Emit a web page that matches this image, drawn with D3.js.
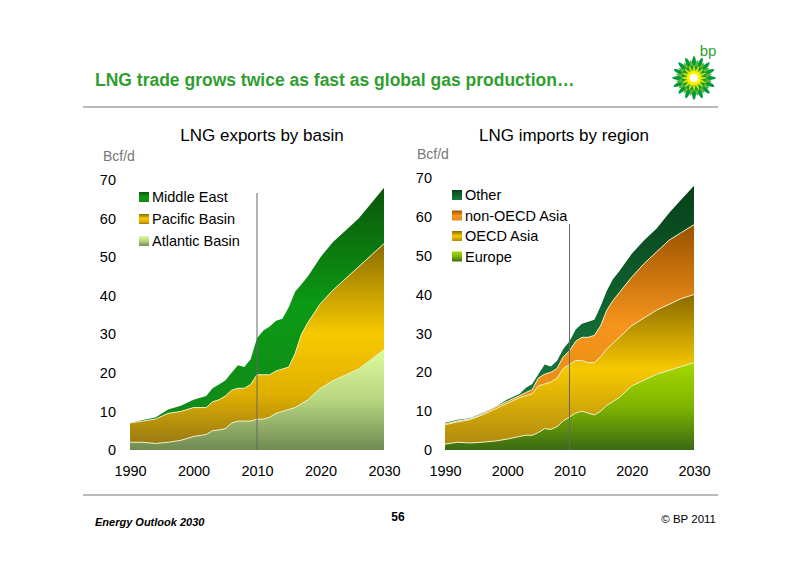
<!DOCTYPE html>
<html><head><meta charset="utf-8">
<script src="https://cdn.jsdelivr.net/npm/d3@7"></script>
<style>body{margin:0;background:#fff}svg{font-family:"Liberation Sans",Arial,sans-serif}</style>
</head><body><svg id="c" width="800" height="566"></svg>
<script>
const yearsL=[1990,1992,1994,1996,1998,2000,2002,2003,2004,2005,2006,2007,2008,2009,2010,2011,2012,2013,2014,2015,2016,2017,2018,2020,2022,2024,2026,2028,2030];
const atlantic=[2,2,1.7,2,2.5,3.5,4,5,5.2,5.5,7,7.5,7.5,7.5,8,8,8.5,9.5,10,10.5,11,12,13,16,18,19.5,21,23.5,26];
const pacific=[5,5.5,6.3,7.5,7.5,7.5,7,7.5,7.8,8.5,8.5,8.5,8.5,9.5,11.5,11.5,11,11,11,11,14,18,20,22,23.5,25,26.5,27,27.5];
const middleEast=[0,0.3,0.4,1,1.5,2,3,3.5,4,4,4.5,6,5.5,6.5,9.5,11.5,12.5,13,13,15.5,16,13,12,12,12.5,12.5,12.5,13.5,14.5];
const yearsR=yearsL;
const europe=[1.5,2,1.8,2,2.3,2.8,3.5,3.8,3.8,4.5,5.5,5.3,6,7.5,8.5,9.5,10,9.5,9,10,11.5,12.5,13.5,16.5,18,19.5,20.5,21.5,22.5];
const oecdAsia=[5,5.2,6,7,8.2,9.2,10,10.2,10.7,12,11.5,12.2,12.5,13.5,13.5,13.5,13,13,13.5,14,14.5,15,15.5,15.5,16,16.5,17,17.5,17.5];
const nonOecdAsia=[0.2,0.3,0.2,0.3,0.5,0.5,0.5,0.8,1,2,2.5,2.5,2.5,3,3.5,5,6,6.5,7,8,10,11,11.5,12.5,14,15,16.5,17,18];
const other=[0.3,0.3,0.2,0.2,0,0.5,0.5,1.2,1.5,1,2.5,1.5,2,2,2.5,3,3.5,4,4,5,5,5.5,5.5,6,6,6,7,8.5,10];
const yTicks=[0,10,20,30,40,50,60,70];
const xTicks=[1990,2000,2010,2020,2030];

const svg=d3.select("#c");
const defs=svg.append("defs");
function grad(id,stops){const g=defs.append("linearGradient").attr("id",id).attr("x1",0).attr("y1",0).attr("x2",0).attr("y2",1);
 stops.forEach(s=>g.append("stop").attr("offset",s[0]).attr("stop-color",s[1]));}
grad("gAtl",[[0,"#dcfb9c"],[0.5,"#b7d680"],[1,"#6f8a52"]]);
grad("gPac",[[0,"#8a6c00"],[0.45,"#f7c900"],[0.75,"#e0b000"],[1,"#9a7a14"]]);
grad("gME",[[0,"#0b560b"],[0.5,"#0b9a14"],[1,"#12881a"]]);
grad("gEur",[[0,"#a5d800"],[0.5,"#7fb500"],[1,"#3a6a14"]]);
grad("gOecd",[[0,"#8a6a00"],[0.5,"#f7c900"],[1,"#b08a10"]]);
grad("gNon",[[0,"#9a5200"],[0.5,"#f7941d"],[1,"#e08a10"]]);
grad("gOth",[[0,"#08401a"],[0.6,"#126a34"],[1,"#1b7a3e"]]);
const rg=defs.append("radialGradient").attr("id","gSun");
[[0,"#ffffff"],[0.25,"#fff200"],[0.5,"#b5d90a"],[0.75,"#3aa935"],[1,"#008a3e"]].forEach(s=>rg.append("stop").attr("offset",s[0]).attr("stop-color",s[1]));

// header / footer
svg.append("text").attr("x",95).attr("y",86).attr("fill","#2f9e2f").attr("font-size",17.5).attr("font-weight","bold").text("LNG trade grows twice as fast as global gas production…");
svg.append("line").attr("x1",83).attr("x2",718).attr("y1",107).attr("y2",107).attr("stroke","#777").attr("stroke-width",1.2);
svg.append("line").attr("x1",83).attr("x2",718).attr("y1",495).attr("y2",495).attr("stroke","#777").attr("stroke-width",1.2);
svg.append("text").attr("x",95).attr("y",526).attr("font-size",11).attr("font-style","italic").attr("font-weight","bold").text("Energy Outlook 2030");
svg.append("text").attr("x",398).attr("y",521).attr("font-size",12).attr("font-weight","bold").attr("text-anchor","middle").text("56");
svg.append("text").attr("x",716).attr("y",523).attr("font-size",11.5).attr("text-anchor","end").text("© BP 2011");
// logo
svg.append("text").attr("x",708).attr("y",56).attr("font-size",15).attr("fill","#2f9e2f").attr("text-anchor","middle").text("bp");
const logo=svg.append("g").attr("transform","translate(694,78)");
function petals(n,r1,r2,w,fill,off){logo.selectAll(null).data(d3.range(n)).join("path").attr("d",i=>{const a=(i+off)/n*2*Math.PI;
 return `M${r1*Math.cos(a-w)},${r1*Math.sin(a-w)}Q${r2*Math.cos(a-w*0.3)},${r2*Math.sin(a-w*0.3)} ${r2*Math.cos(a)},${r2*Math.sin(a)}Q${r2*Math.cos(a+w*0.3)},${r2*Math.sin(a+w*0.3)} ${r1*Math.cos(a+w)},${r1*Math.sin(a+w)}Z`;}).attr("fill",fill);}
petals(16,10,22,0.28,"#009a3e",0);
petals(16,8,18,0.26,"#5cb82e",0.5);
logo.append("circle").attr("r",12).attr("fill","url(#gSun)");
petals(16,4,13,0.25,"#d8e600",0);
logo.append("circle").attr("r",7).attr("fill","#fff200");
logo.append("circle").attr("r",4).attr("fill","#fff");

function chart(o){
 const x=d3.scaleLinear().domain([1990,2030]).range([o.x0,o.x1]);
 const y=d3.scaleLinear().domain([0,70]).range([450,o.yTop]);
 const rows=o.years.map((yr,i)=>{const r={year:yr};o.series.forEach(s=>r[s.name]=s.values[i]);return r;});
 const stack=d3.stack().keys(o.series.map(s=>s.name))(rows);
 const area=d3.area().x(d=>x(d.data.year)).y0(d=>y(d[0])).y1(d=>y(d[1]));
 const line=d3.line().x(d=>x(d.data.year)).y(d=>y(d[1]));
 const g=svg.append("g");
 stack.forEach((l,i)=>{g.append("path").attr("d",area(l)).attr("fill",`url(#${o.series[i].grad})`);});
 stack.forEach((l,i)=>{if(i<stack.length-1)g.append("path").attr("d",line(l)).attr("fill","none").attr("stroke","#eeeec0").attr("stroke-width",1);});
 g.append("line").attr("x1",x(2010)).attr("x2",x(2010)).attr("y1",o.lineTop).attr("y2",450).attr("stroke","#666").attr("stroke-width",1);
 const ya=svg.append("g").attr("transform",`translate(${o.yAxisX},0)`).call(d3.axisLeft(y).tickValues(yTicks).tickSize(0).tickPadding(0));
 ya.select(".domain").remove();ya.selectAll("text").attr("font-size",14.5).attr("fill","#000").attr("font-family","Liberation Sans, Arial");
 const xa=svg.append("g").attr("transform",`translate(0,${466})`).call(d3.axisBottom(x).tickValues(xTicks).tickFormat(d3.format("d")).tickSize(0).tickPadding(0));
 xa.select(".domain").remove();xa.selectAll("text").attr("font-size",14.5).attr("fill","#000").attr("font-family","Liberation Sans, Arial");
 svg.append("text").attr("x",o.titleX).attr("y",141).attr("text-anchor","middle").attr("font-size",17).text(o.title);
 svg.append("text").attr("x",o.unitX).attr("y",o.unitY).attr("font-size",14).attr("fill","#777").text("Bcf/d");
 const leg=o.series.slice().reverse();
 leg.forEach((s,i)=>{const ly=o.legY+i*o.legDy;
  svg.append("rect").attr("x",o.legX).attr("y",ly-10).attr("width",10).attr("height",10).attr("fill",`url(#${s.grad})`);
  svg.append("text").attr("x",o.legX+13).attr("y",ly).attr("font-size",14.5).text(s.name);});
}
chart({years:yearsL,x0:130,x1:384,yTop:180,yAxisX:116,lineTop:193,title:"LNG exports by basin",titleX:262,unitX:103,unitY:161,
 legX:139,legY:202,legDy:22,
 series:[{name:"Atlantic Basin",values:atlantic,grad:"gAtl"},{name:"Pacific Basin",values:pacific,grad:"gPac"},{name:"Middle East",values:middleEast,grad:"gME"}]});
chart({years:yearsR,x0:445,x1:694,yTop:178,yAxisX:432,lineTop:224,title:"LNG imports by region",titleX:564,unitX:417,unitY:159,
 legX:452,legY:200,legDy:20.5,
 series:[{name:"Europe",values:europe,grad:"gEur"},{name:"OECD Asia",values:oecdAsia,grad:"gOecd"},{name:"non-OECD Asia",values:nonOecdAsia,grad:"gNon"},{name:"Other",values:other,grad:"gOth"}]});
</script></body></html>
